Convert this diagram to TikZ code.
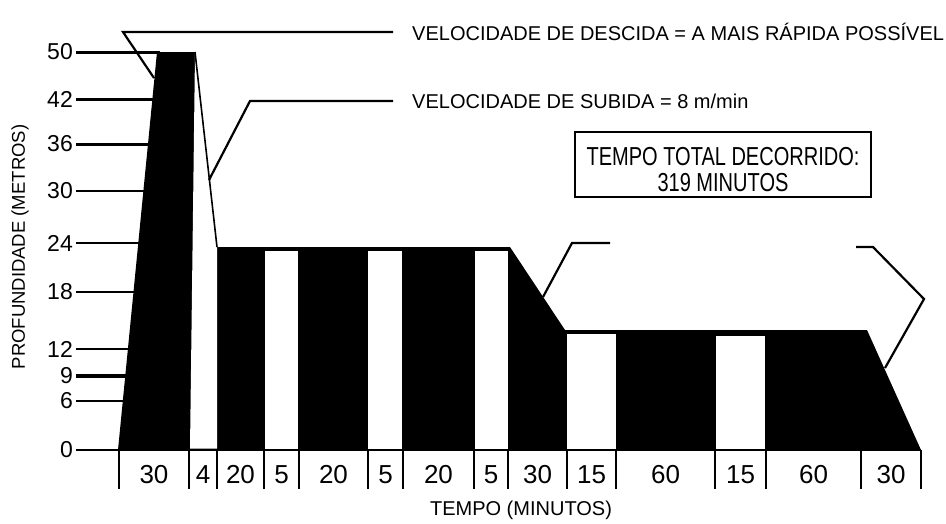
\documentclass[tikz,border=0pt]{standalone}
\usepackage{fontspec}
\setmainfont{Liberation Sans}
\newfontfamily\caixafont[FakeStretch=0.77]{Liberation Sans}

\begin{document}
\begin{tikzpicture}[x=1pt,y=-1pt]
\tikzset{marca/.style={anchor=east, inner sep=0pt, font=\fontsize{23}{23}\selectfont},
  duracao/.style={inner sep=0pt, font=\fontsize{26}{26}\selectfont},
  legenda/.style={anchor=base west, inner sep=0pt, font=\fontsize{20}{20}\selectfont},
  guia/.style={line width=2.2pt},
  regua/.style={line width=2pt}}
\useasboundingbox (0,0) rectangle (946,523);
% profundidades
\node[marca] (P50) at (73,52) {50};
\node[marca] (P42) at (73,99) {42};
\node[marca] (P36) at (73,144) {36};
\node[marca] (P30) at (73,191) {30};
\node[marca] (P24) at (73,243) {24};
\node[marca] (P18) at (73,292) {18};
\node[marca] (P12) at (73,349) {12};
\node[marca] (P9) at (73,376) {9};
\node[marca] (P6) at (73,401) {6};
\node[marca] (P0) at (73,450) {0};
\draw[line width=3pt] (76,52) -- (160,52);
\draw[line width=3pt] (76,99) -- (160,99);
\draw[line width=3pt] (76,144) -- (160,144);
\draw[line width=1.3pt] (76,191) -- (160,191);
\draw[line width=2.5pt] (76,243) -- (160,243);
\draw[line width=2.5pt] (76,292) -- (160,292);
\draw[line width=2.3pt] (76,349) -- (160,349);
\draw[line width=3.5pt] (76,376) -- (160,376);
\draw[line width=1.8pt] (76,401) -- (160,401);
% perfil do mergulho
\fill (118,450) -- (157,52) -- (195,52) -- (217,247) -- (510,247) -- (565,330) -- (867,330) -- (921,450) -- cycle;
\fill[white] (190,448.5) -- (195,53) -- (217,247) -- (217,448.5) -- cycle;
\fill[white] (265,251) rectangle (298,448.5);
\fill[white] (368,251) rectangle (402,448.5);
\fill[white] (475,251) rectangle (508,448.5);
\fill[white] (567,334) rectangle (616,448.5);
\fill[white] (716,336) rectangle (765,448.5);
\draw[line width=1.6pt] (195,52) -- (217,247);
\draw[line width=2.5pt] (76,450) -- (921,450);
\draw[regua] (119,450) -- (119,489) (189,450) -- (189,489) (217,450) -- (217,489)
  (264,450) -- (264,489) (299,450) -- (299,489) (368,450) -- (368,489)
  (403,450) -- (403,489) (474,450) -- (474,489) (508,450) -- (508,489)
  (567,450) -- (567,489) (616,450) -- (616,489) (715,450) -- (715,489)
  (766,450) -- (766,489) (861,450) -- (861,489) (921,450) -- (921,489);
% tempos
\node[duracao] (D1) at (154,475) {30};
\node[duracao] (D2) at (203,475) {4};
\node[duracao] (D3) at (240.5,475) {20};
\node[duracao] (D4) at (281.5,475) {5};
\node[duracao] (D5) at (333.5,475) {20};
\node[duracao] (D6) at (385.5,475) {5};
\node[duracao] (D7) at (438.5,475) {20};
\node[duracao] (D8) at (491,475) {5};
\node[duracao] (D9) at (537.5,475) {30};
\node[duracao] (D10) at (591.5,475) {15};
\node[duracao] (D11) at (665.5,475) {60};
\node[duracao] (D12) at (740.5,475) {15};
\node[duracao] (D13) at (813.5,475) {60};
\node[duracao] (D14) at (891,475) {30};
\node[font=\fontsize{20}{20}\selectfont] (EixoX) at (521,510) {TEMPO (MINUTOS)};
\node[rotate=90, font=\fontsize{18.5}{18.5}\selectfont] (EixoY) at (20,247) {PROFUNDIDADE (METROS)};
% legendas
\node[legenda] (Ldesc) at (412,40.5) {VELOCIDADE DE DESCIDA = A MAIS RÁPIDA POSSÍVEL};
\node[legenda] (Lsub) at (412,108) {VELOCIDADE DE SUBIDA = 8 m/min};
\coordinate (Qdesc) at (154,78);
\coordinate (Kdesc) at (123,32);
\coordinate (Edesc) at (393,32);
\draw[guia] (Qdesc) -- (Kdesc) -- (Edesc);
\coordinate (Qsub) at (209,180);
\coordinate (Ksub) at (250,101);
\coordinate (Esub) at (393,101);
\draw[guia] (Qsub) -- (Ksub) -- (Esub);
\coordinate (Qmeio) at (543,297);
\coordinate (Kmeio) at (572,243);
\coordinate (Emeio) at (610,243);
\draw[guia] (Qmeio) -- (Kmeio) -- (Emeio);
\coordinate (Qfim) at (885,368);
\coordinate (Kfim) at (924,299);
\coordinate (Jfim) at (873,247);
\coordinate (Efim) at (856,247);
\draw[guia] (Qfim) -- (Kfim) -- (Jfim) -- (Efim);
% tempo total
\node[draw, line width=2.5pt, minimum width=296pt, minimum height=65pt] (Caixa) at (723,164.5) {};
\node[align=center, inner sep=0pt, font=\caixafont\fontsize{26}{26}\selectfont] (Total) at (723,169.7) {TEMPO TOTAL DECORRIDO:\\319 MINUTOS};
\end{tikzpicture}
\end{document}
